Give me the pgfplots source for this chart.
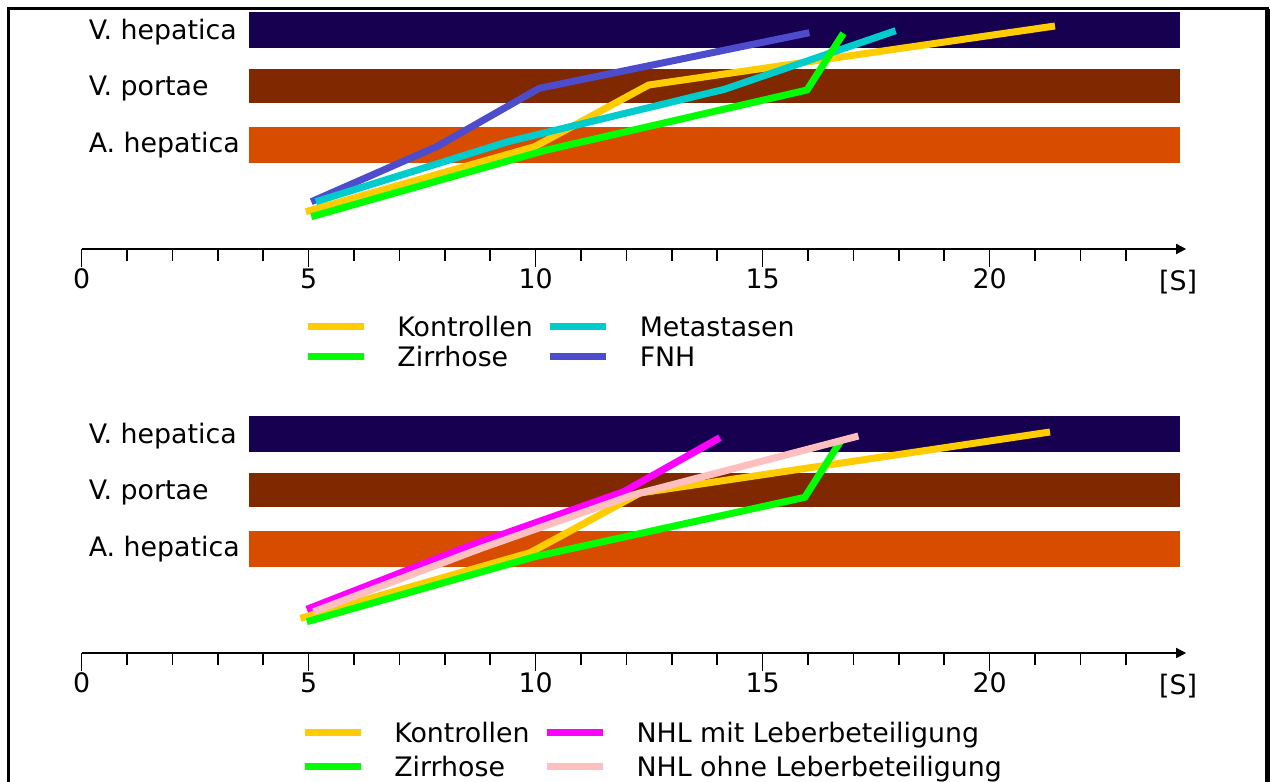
\documentclass[border=0pt]{standalone}
\usepackage{pgfplots}
\pgfplotsset{compat=1.18}
\usepackage{fontspec}
\setmainfont{DejaVu Sans}
\usetikzlibrary{arrows.meta}
\definecolor{vhep}{RGB}{23,0,80}
\definecolor{vpor}{RGB}{128,40,0}
\definecolor{ahep}{RGB}{216,76,0}
\definecolor{ckon}{RGB}{255,204,0}
\definecolor{czir}{RGB}{0,255,0}
\definecolor{cmet}{RGB}{0,204,204}
\definecolor{cfnh}{RGB}{76,76,204}
\definecolor{cmit}{RGB}{255,0,255}
\definecolor{cohne}{RGB}{255,191,191}
\begin{document}
\fontsize{13.4}{16}\selectfont
\begin{tikzpicture}
\pgfplotsset{
  panel/.style={
    x=22.7pt, y=0.5pt, xmin=0, xmax=24.33, ymin=0, ymax=240,
    enlargelimits=false, clip=false,
    axis x line=bottom, axis y line=none,
    x axis line style={line width=0.8pt, -{Triangle[length=5pt,width=5pt]}},
    xtick={0,5,10,15,20}, minor xtick={1,...,23},
    tick align=outside, major tick length=9pt, minor tick length=6pt,
    every tick/.style={black, line width=0.8pt},
    xticklabel style={anchor=base, inner sep=0pt, yshift=-10.75pt},
    /pgf/number format/assume math mode=true,
    legend cell align=left, legend columns=2,
    legend image code/.code={\draw[##1] (0pt,0pt) -- (28pt,0pt);},
    legend style={draw=none, fill=none, inner sep=0pt, anchor=north west,
      nodes={inner sep=0pt, text height=9.5pt, text depth=0pt},
      /tikz/every odd column/.append style={column sep=15pt},
      /tikz/every even column/.append style={column sep=7pt}},
  },
  band/.style={draw=none, fill=#1, forget plot},
  ser/.style={color=#1, line width=3.5pt, forget plot},
}
% ---------------- top panel ----------------
\begin{axis}[panel, at={(0pt,0pt)}, anchor=south west,
  legend style={at={(axis cs:4.9,-68)}, row sep=5.5pt}]
\addplot[band=vhep] coordinates {(3.69,201) (24.19,201) (24.19,237) (3.69,237)} -- cycle;
\addplot[band=vpor] coordinates {(3.69,146) (24.19,146) (24.19,180) (3.69,180)} -- cycle;
\addplot[band=ahep] coordinates {(3.69,86) (24.19,86) (24.19,122) (3.69,122)} -- cycle;
% Kontrollen
\addplot[ser=ckon] coordinates {(4.94,37.3) (9.98,102.3) (12.49,164) (21.44,223)};
% FNH
\addplot[ser=cfnh] coordinates {(5.06,47.3) (7.82,102.3) (10.08,160.7) (16.03,216.3)};
% Metastasen
\addplot[ser=cmet] coordinates {(5.16,47.3) (9.39,107.3) (14.16,159.7) (17.93,218.3)};
% Zirrhose
\addplot[ser=czir] coordinates {(5.06,32.3) (10.18,98.3) (15.98,159) (16.78,215.7)};
\addlegendimage{color=ckon, line width=3.5pt}\addlegendentry{Kontrollen}
\addlegendimage{color=cmet, line width=3.5pt}\addlegendentry{Metastasen}
\addlegendimage{color=czir, line width=3.5pt}\addlegendentry{Zirrhose}
\addlegendimage{color=cfnh, line width=3.5pt}\addlegendentry{FNH}
\node[anchor=base west, inner sep=0pt] at (axis cs:0.15,209.5) {V. hepatica};
\node[anchor=base west, inner sep=0pt] at (axis cs:0.15,153.5) {V. portae};
\node[anchor=base west, inner sep=0pt] at (axis cs:0.15,97) {A. hepatica};
\node[anchor=base, inner sep=0pt] at (axis cs:24.15,-41) {[S]};
\end{axis}
% ---------------- bottom panel ----------------
\begin{axis}[panel, at={(0pt,-202pt)}, anchor=south west,
  legend style={at={(axis cs:4.83,-70)}, row sep=7.5pt}]
\addplot[band=vhep] coordinates {(3.69,201) (24.19,201) (24.19,237) (3.69,237)} -- cycle;
\addplot[band=vpor] coordinates {(3.69,146) (24.19,146) (24.19,180) (3.69,180)} -- cycle;
\addplot[band=ahep] coordinates {(3.69,86) (24.19,86) (24.19,122) (3.69,122)} -- cycle;
% Kontrollen
\addplot[ser=ckon] coordinates {(4.82,34.7) (9.88,100.3) (12.3,160) (21.33,221)};
% Zirrhose
\addplot[ser=czir] coordinates {(4.96,31.3) (9.98,96.3) (15.93,155.7) (16.71,211.3)};
% NHL mit Leberbeteiligung
\addplot[ser=cmit] coordinates {(4.96,43.7) (8.50,106.3) (11.94,161.3) (14.06,215.3)};
% NHL ohne Leberbeteiligung
\addplot[ser=cohne] coordinates {(5.11,41.3) (8.80,104.7) (12.14,158) (17.11,217)};
\addlegendimage{color=ckon, line width=3.5pt}\addlegendentry{Kontrollen}
\addlegendimage{color=cmit, line width=3.5pt}\addlegendentry{NHL mit Leberbeteiligung}
\addlegendimage{color=czir, line width=3.5pt}\addlegendentry{Zirrhose}
\addlegendimage{color=cohne, line width=3.5pt}\addlegendentry{NHL ohne Leberbeteiligung}
\node[anchor=base west, inner sep=0pt] at (axis cs:0.15,209.5) {V. hepatica};
\node[anchor=base west, inner sep=0pt] at (axis cs:0.15,153.5) {V. portae};
\node[anchor=base west, inner sep=0pt] at (axis cs:0.15,97) {A. hepatica};
\node[anchor=base, inner sep=0pt] at (axis cs:24.15,-41) {[S]};
\end{axis}
% frame
\draw[line width=1.4pt] (-36.45pt,-290pt) -- (-36.45pt,120.15pt) -- (592.95pt,120.15pt) -- (592.95pt,-290pt);
\draw[line width=2.2pt] (592.95pt,120.15pt) -- (592.95pt,-290pt);
\pgfresetboundingbox
\path[use as bounding box] (-40.8pt,-266.5pt) rectangle (594.2pt,124.5pt);
\end{tikzpicture}
\end{document}
